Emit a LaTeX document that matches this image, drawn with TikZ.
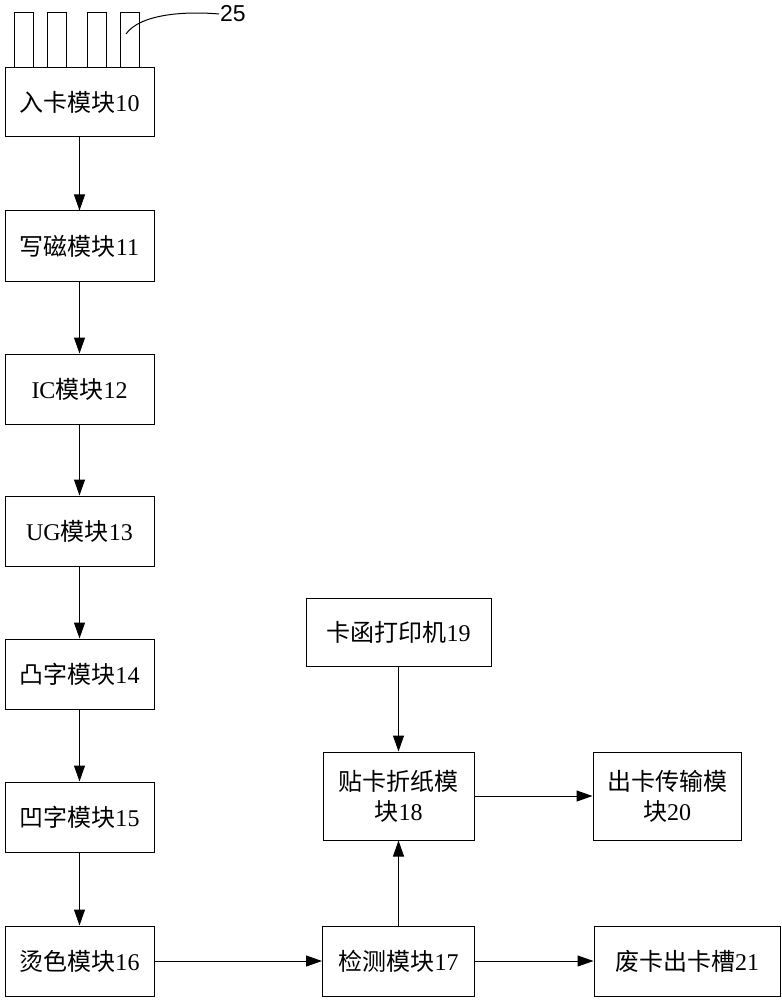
\documentclass[tikz,border=0pt]{standalone}
\usepackage{fontspec}
\setmainfont{Liberation Serif}
\newfontfamily\cjk{Noto Sans CJK SC}
\newfontfamily\lsans{Liberation Sans}
\usetikzlibrary{arrows.meta}
\begin{document}
\begin{tikzpicture}[x=1pt,y=-1pt,
  box/.style={draw, line width=1pt, inner sep=0pt, align=center,
    font=\fontsize{24}{30}\selectfont},
  arr/.style={line width=1pt, -{Triangle[length=16pt,width=11pt]}},
  slotbox/.style={draw, line width=1pt, inner sep=0pt, minimum width=19, minimum height=55}]
\useasboundingbox (0,0) rectangle (781,1000);
% slots
\node[slotbox] (s1) at (23.5,40.5) {};
\node[slotbox] (s2) at (56.5,40.5) {};
\node[slotbox] (s3) at (96.5,40.5) {};
\node[slotbox] (s4) at (129.5,40.5) {};
\node[box, minimum width=149, minimum height=69] (n10) at (79.5,102.5) {{\cjk 入卡模块}10};
\node[font=\lsans\fontsize{23}{26}\selectfont, anchor=west, inner sep=1pt] (l25) at (219,14) {25};
\draw[line width=1pt] (126,34) .. controls (140,14) and (185,11) .. (l25.west);
\node[box, minimum width=149, minimum height=70] (n11) at (79.5,246) {{\cjk 写磁模块}11};
\node[box, minimum width=149, minimum height=70] (n12) at (79.5,389) {IC{\cjk 模块}12};
\node[box, minimum width=149, minimum height=70] (n13) at (79.5,531) {UG{\cjk 模块}13};
\node[box, minimum width=149, minimum height=70] (n14) at (79.5,674) {{\cjk 凸字模块}14};
\node[box, minimum width=149, minimum height=70] (n15) at (79.5,817) {{\cjk 凹字模块}15};
\node[box, minimum width=149, minimum height=70] (n16) at (79.5,961) {{\cjk 烫色模块}16};
\node[box, minimum width=152, minimum height=70] (n17) at (398.5,961) {{\cjk 检测模块}17};
\node[box, minimum width=186, minimum height=70] (n21) at (687,961) {{\cjk 废卡出卡槽}21};
\node[box, minimum width=185, minimum height=68] (n19) at (398.5,632) {{\cjk 卡函打印机}19};
\node[box, minimum width=151, minimum height=88] (n18) at (398.5,796) {{\cjk 贴卡折纸模}\\{\cjk 块}18};
\node[box, minimum width=148, minimum height=88] (n20) at (667,796) {{\cjk 出卡传输模}\\{\cjk 块}20};
\draw[arr] (n10) -- (n11);
\draw[arr] (n11) -- (n12);
\draw[arr] (n12) -- (n13);
\draw[arr] (n13) -- (n14);
\draw[arr] (n14) -- (n15);
\draw[arr] (n15) -- (n16);
\draw[arr] (n16) -- (n17);
\draw[arr] (n17) -- (n21);
\draw[arr] (n17) -- (n18);
\draw[arr] (n19) -- (n18);
\draw[arr] (n18) -- (n20);
\end{tikzpicture}
\end{document}
